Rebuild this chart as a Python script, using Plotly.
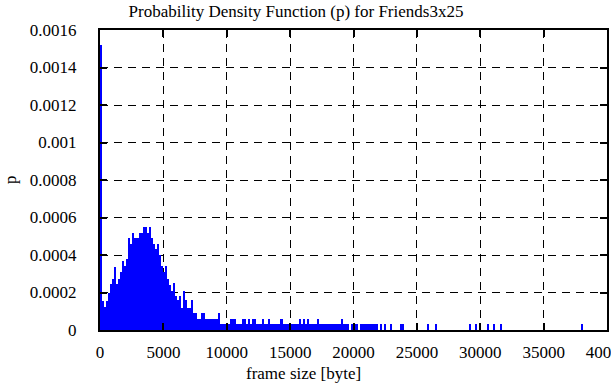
import plotly.graph_objects as go

# ---- data ----
BIN_WIDTH = 160  # bytes per histogram bin

# p per bin, bins starting at 0 bytes (0..143)
dense_p = [
    0.00152, 0.000155, 0.000124, 0.000155, 0.0002, 0.000244, 0.00027, 0.000334, 0.000244, 0.00027,
    0.00031, 0.00037, 0.00034, 0.00038, 0.00049, 0.00046, 0.00052, 0.00049, 0.00049, 0.00052,
    0.00052, 0.00055, 0.00055, 0.00052, 0.00055, 0.00049, 0.00046, 0.00043, 0.00046, 0.0004,
    0.00034, 0.00031, 0.00034, 0.00027, 0.00024, 0.00021, 0.00025, 0.00018, 0.00016, 0.00018,
    0.00012, 0.00021, 0.00016, 0.00012, 0.00012, 0.00016, 0.00009, 0.00009, 0.00006, 0.00006,
    0.00009, 0.00009, 0.00006, 0.00006, 0.00006, 0.00006, 0.00006, 0.00006, 0.00009, 0.00003,
    0.00003, 0.00003, 0.00003, 0.00003, 0.000057, 0.000057, 0.000057, 0.00003, 0.00003, 0.00003,
    0.000057, 0.000057, 0.00003, 0.000057, 0.00003, 0.000057, 0.000057, 0.00003, 0.00003, 0.00003,
    0.000057, 0.00003, 0.00003, 0.000057, 0.00003, 0.00003, 0.00003, 0.00003, 0.00003, 0.000057,
    0.00003, 0.00003, 0.00003, 0.00003, 0.00003, 0.00003, 0.00003, 0.00003, 0.000057, 0.00003,
    0.000057, 0.00003, 0.000057, 0.00003, 0.00003, 0.00003, 0.00003, 0.000057, 0.00003, 0.00003,
    0.00003, 0.00003, 0.00003, 0.00003, 0.00003, 0.00003, 0.00003, 0.00003, 0.00003, 0.000057,
    0.00003, 0.00003, 0.00003, 0.0, 0.00003, 0.00003, 0.00003, 0.0, 0.00003, 0.00003,
    0.00003, 0.00003, 0.00003, 0.00003, 0.00003, 0.00003, 0.00003, 0.0, 0.00003, 0.0,
    0.00003, 0.0, 0.0, 0.00003,
]

# sparse large-frame tail
tail_size = [23760, 23920, 25840, 26480, 29200, 29680, 30000, 30640, 31120, 31600, 38000]
tail_p = [0.00003, 0.00003, 0.00003, 0.00003, 0.00003, 0.00003, 0.00003, 0.00003, 0.00003, 0.00003, 0.00003]

x_ticks = [0, 5000, 10000, 15000, 20000, 25000, 30000, 35000, 40000]
x_tick_labels = ["0", "5000", "10000", "15000", "20000", "25000", "30000", "35000", "40000"]
y_ticks = [0, 0.0002, 0.0004, 0.0006, 0.0008, 0.001, 0.0012, 0.0014, 0.0016]
y_tick_labels = ["0", "0.0002", "0.0004", "0.0006", "0.0008", "0.001", "0.0012", "0.0014", "0.0016"]

# ---- figure ----
BLUE = "#0000ff"
SERIF = "Liberation Serif, Times New Roman, DejaVu Serif, serif"
fig = go.Figure()
fig.add_bar(x0=BIN_WIDTH / 2, dx=BIN_WIDTH, y=dense_p, width=BIN_WIDTH,
            marker=dict(color=BLUE, line=dict(width=0)), showlegend=False)
fig.add_bar(x=tail_size, y=tail_p, width=BIN_WIDTH,
            marker=dict(color=BLUE, line=dict(width=0)), showlegend=False)

axis_common = dict(
    showgrid=True, gridcolor="black", gridwidth=1, griddash="8px,6px",
    showline=True, linecolor="black", linewidth=2, mirror="allticks",
    ticks="inside", ticklen=7, tickwidth=2, tickcolor="black",
    zeroline=False, automargin=False, ticklabeloverflow="allow",
    tickfont=dict(family=SERIF, size=17, color="black"),
)

fig.update_layout(
    width=611, height=385,
    margin=dict(l=100, r=4, t=30, b=55, pad=0, autoexpand=False),
    paper_bgcolor="white", plot_bgcolor="white",
    font=dict(family=SERIF, size=17, color="black"),
    barmode="overlay", bargap=0,
    title=dict(text="Probability Density Function (p) for Friends3x25",
               x=296 / 611, xref="container", xanchor="center",
               y=1 - 11 / 385, yref="container", yanchor="middle",
               font=dict(family=SERIF, size=17, color="black")),
    xaxis=dict(range=[0, 40000], tickvals=x_ticks, ticktext=x_tick_labels,
               ticklabelstandoff=6, **axis_common),
    yaxis=dict(range=[0, 0.0016], tickvals=y_ticks, ticktext=y_tick_labels,
               ticklabelstandoff=18, **axis_common),
    annotations=[
        dict(text="frame size [byte]", x=(303 - 100) / 507, y=-43 / 300,
             xref="paper", yref="paper", xanchor="center", yanchor="middle",
             showarrow=False, font=dict(family=SERIF, size=17)),
        dict(text="p", x=-90 / 507, y=0.5, xref="paper", yref="paper",
             xanchor="center", yanchor="middle", textangle=-90,
             showarrow=False, font=dict(family=SERIF, size=17)),
    ],
)

fig.write_html(
    "out.html",
    config={"displayModeBar": False},
    post_script="document.body.style.margin='0px';document.body.style.overflow='hidden';",
)
